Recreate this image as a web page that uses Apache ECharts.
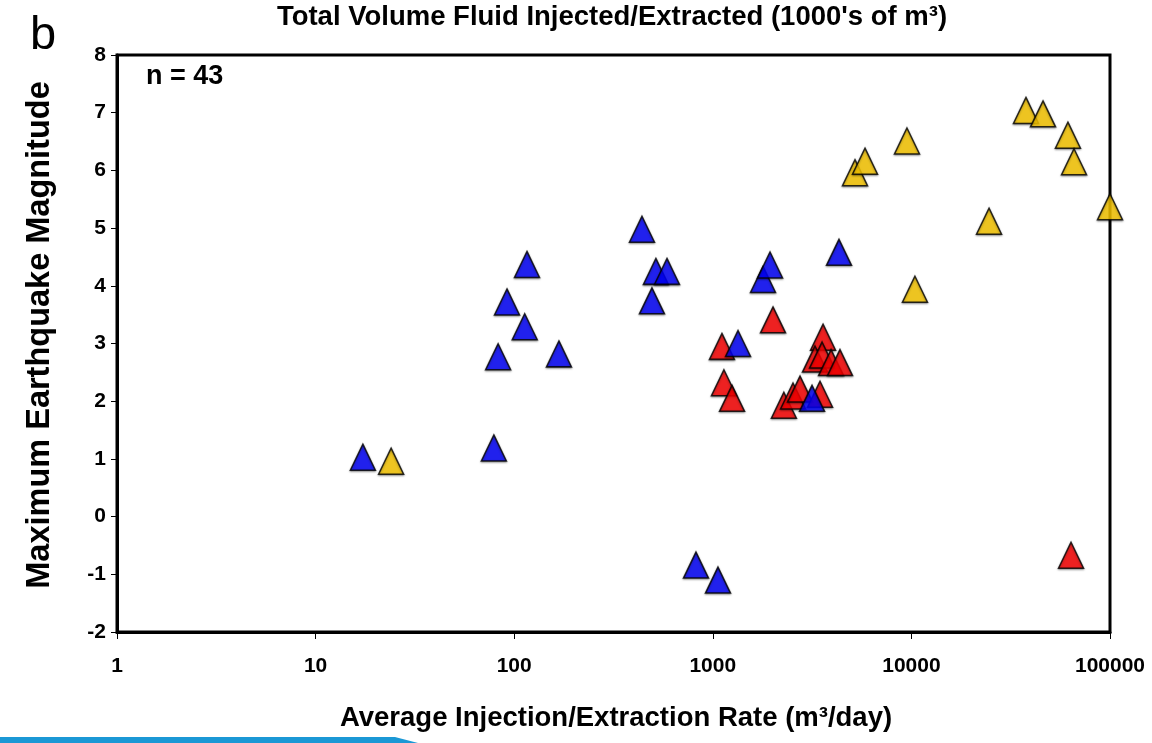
<!DOCTYPE html>
<html>
<head>
<meta charset="utf-8">
<script src="https://cdn.jsdelivr.net/npm/echarts@6/dist/echarts.min.js"></script>
<style>
html,body{margin:0;padding:0;background:#fff;}
#chart{width:1152px;height:743px;}
</style>
</head>
<body>
<div id="chart"></div>
<script>
// Data (x = average rate m3/day, y = max magnitude)
const blueData = [
  [17.3, 1.03], [79, 1.19], [83, 2.77], [92, 3.72], [113, 3.29], [116, 4.37],
  [168, 2.82], [440, 4.98], [494, 3.74], [517, 4.25], [588, 4.25], [823, -0.84],
  [1062, -1.10], [1340, 3.00], [1790, 4.11], [1942, 4.36], [3160, 2.05], [4320, 4.58]
];
const redData = [
  [1112, 2.95], [1138, 2.32], [1250, 2.05], [2010, 3.41],
  [2280, 1.93], [2535, 2.09], [2750, 2.21], [3467, 2.12],
  [3590, 3.11], [3270, 2.73], [3550, 2.80], [3940, 2.67], [4370, 2.67],
  [63650, -0.67]
];
const yellowData = [
  [24, 0.96], [5200, 5.96], [5840, 6.16], [9500, 6.51], [10420, 3.94],
  [24600, 5.12], [37750, 7.04], [46000, 6.98], [61400, 6.61], [65900, 6.15],
  [100000, 5.37]
];
const xTickLabels = ['1', '10', '100', '1000', '10000', '100000'];
const yMin = -2, yMax = 8, yStep = 1;

const chart = echarts.init(document.getElementById('chart'), null, {renderer: 'canvas'});
const FONT = '"Liberation Sans", Arial, sans-serif';
const markerStyle = (c) => ({
  color: c, borderColor: '#000', borderWidth: 1.5,
  shadowColor: 'rgba(0,0,0,0.45)', shadowBlur: 2, shadowOffsetY: 1
});
const option = {
  backgroundColor: '#fff',
  animation: false,
  grid: {left: 117, right: 42, top: 55, bottom: 111, show: true, borderColor: '#000', borderWidth: 3},
  xAxis: {
    type: 'log', logBase: 10, min: 1, max: 100000,
    axisLine: {show: true, onZero: false, lineStyle: {color: '#000', width: 3}},
    axisTick: {show: true, length: 7, lineStyle: {color: '#000', width: 1}},
    minorTick: {show: false},
    splitLine: {show: false},
    axisLabel: {
      color: '#000', fontFamily: FONT, fontWeight: 'bold', fontSize: 21, margin: 24,
      formatter: (v) => { const i = Math.round(Math.log10(v)); return xTickLabels[i] !== undefined ? xTickLabels[i] : ''; }
    }
  },
  yAxis: {
    type: 'value', min: yMin, max: yMax, interval: yStep,
    axisLine: {show: true, onZero: false, lineStyle: {color: '#000', width: 3}},
    axisTick: {show: true, length: 6, lineStyle: {color: '#000', width: 1}},
    splitLine: {show: false},
    axisLabel: {color: '#000', fontFamily: FONT, fontWeight: 'bold', fontSize: 21, margin: 11}
  },
  series: [
    {type: 'scatter', name: 'red', symbol: 'triangle', symbolSize: [25, 26], data: redData, itemStyle: markerStyle('#ff0000'), z: 2},
    {type: 'scatter', name: 'blue', symbol: 'triangle', symbolSize: [25, 26], data: blueData, itemStyle: markerStyle('#0000ff'), z: 3},
    {type: 'scatter', name: 'yellow', symbol: 'triangle', symbolSize: [25, 26], data: yellowData, itemStyle: markerStyle('#ffcc00'), z: 4}
  ],
  graphic: [
    {type: 'text', x: 612, y: 3, style: {text: "Total Volume Fluid Injected/Extracted (1000's of m³)", font: 'bold 27.5px ' + FONT, fill: '#000', textAlign: 'center', textVerticalAlign: 'top'}},
    {type: 'text', x: 30, y: 13, style: {text: 'b', font: 'normal 47px ' + FONT, fill: '#000'}},
    {type: 'text', x: 146, y: 63, style: {text: 'n = 43', font: 'bold 27px ' + FONT, fill: '#000'}},
    {type: 'text', x: 40, y: 335, rotation: Math.PI / 2, style: {text: 'Maximum Earthquake Magnitude', font: 'bold 32.5px ' + FONT, fill: '#000', textAlign: 'center', textVerticalAlign: 'middle'}},
    {type: 'text', x: 616, y: 718, style: {text: 'Average Injection/Extraction Rate (m³/day)', font: 'bold 27.5px ' + FONT, fill: '#000', textAlign: 'center', textVerticalAlign: 'middle'}},
    {type: 'polygon', shape: {points: [[0, 737], [395, 737], [418, 743], [0, 743]]}, style: {fill: '#1b98d5'}}
  ]
};
chart.setOption(option);
</script>
</body>
</html>
